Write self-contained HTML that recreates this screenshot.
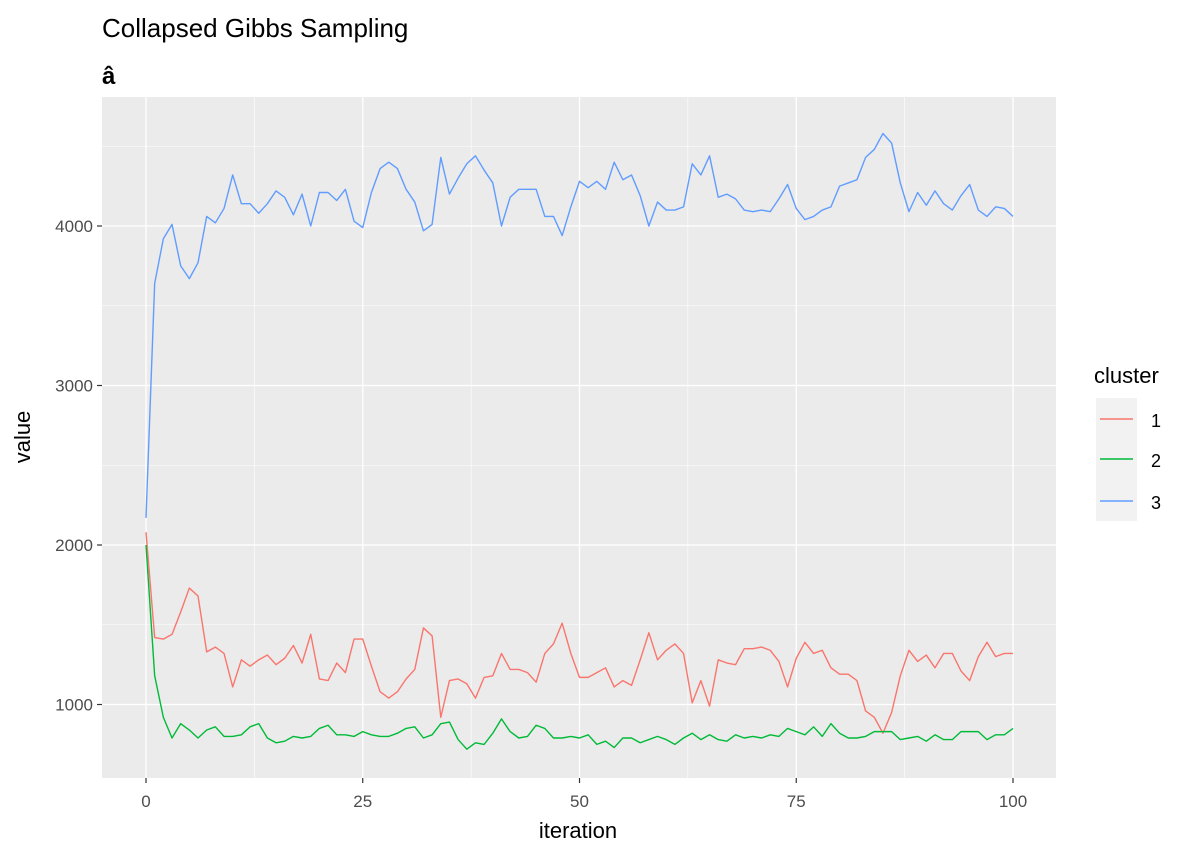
<!DOCTYPE html>
<html><head><meta charset="utf-8"><style>
body{margin:0;background:#fff;font-family:"Liberation Sans",Arial,sans-serif;}
svg text{font-family:"Liberation Sans",Arial,sans-serif;}
</style></head><body>
<svg width="1200" height="857" xmlns="http://www.w3.org/2000/svg">
<text x="102" y="37" font-size="26" fill="#000">Collapsed Gibbs Sampling</text>
<text x="102" y="84" font-size="24" font-weight="bold" fill="#000">â</text>
<rect x="102" y="97" width="954" height="681" fill="#ebebeb"/>
<g id="grid"></g>
<g id="series"></g>
<g id="axes"></g>
<text x="578" y="838" font-size="22" text-anchor="middle">iteration</text>
<text transform="translate(30,437) rotate(-90)" font-size="22" text-anchor="middle">value</text>
<g>
<text x="1094" y="383" font-size="22">cluster</text>
<rect x="1096" y="398" width="41" height="123" fill="#f2f2f2"/>
<line x1="1100" x2="1133" y1="419" y2="419" stroke="#F8766D" stroke-width="1.5"/>
<line x1="1100" x2="1133" y1="459" y2="459" stroke="#00BA38" stroke-width="1.5"/>
<line x1="1100" x2="1133" y1="501" y2="501" stroke="#619CFF" stroke-width="1.5"/>
<text x="1151" y="427" font-size="18">1</text>
<text x="1151" y="467" font-size="18">2</text>
<text x="1151" y="509" font-size="18">3</text>
</g>
</svg>
<script>
const xTicks=[0,25,50,75,100];
const yTicks=[1000,2000,3000,4000];
const seriesNames=["1","2","3"];
const cluster1=[2080,1420,1410,1440,1580,1730,1680,1330,1360,1320,1110,1280,1240,1280,1310,1250,1290,1370,1260,1440,1160,1150,1260,1200,1410,1410,1240,1080,1040,1080,1160,1220,1480,1430,920,1150,1160,1130,1040,1170,1180,1320,1220,1220,1200,1140,1320,1380,1510,1320,1170,1170,1200,1230,1110,1150,1120,1280,1450,1280,1340,1380,1320,1010,1150,990,1280,1260,1250,1350,1350,1360,1340,1270,1110,1290,1390,1320,1340,1230,1190,1190,1150,960,920,820,950,1180,1340,1270,1310,1230,1320,1320,1210,1150,1300,1390,1300,1320,1320];
const cluster2=[2000,1180,920,790,880,840,790,840,860,800,800,810,860,880,790,760,770,800,790,800,850,870,810,810,800,830,810,800,800,820,850,860,790,810,880,890,780,720,760,750,820,910,830,790,800,870,850,790,790,800,790,810,750,770,730,790,790,760,780,800,780,750,790,820,780,810,780,770,810,790,800,790,810,800,850,830,810,860,800,880,820,790,790,800,830,830,830,780,790,800,770,810,780,780,830,830,830,780,810,810,850];
const cluster3=[2170,3640,3920,4010,3750,3670,3770,4060,4020,4110,4320,4140,4140,4080,4140,4220,4180,4070,4200,4000,4210,4210,4160,4230,4030,3990,4210,4360,4400,4360,4230,4150,3970,4010,4430,4200,4300,4390,4440,4350,4270,4000,4180,4230,4230,4230,4060,4060,3940,4120,4280,4240,4280,4230,4400,4290,4320,4190,4000,4150,4100,4100,4120,4390,4320,4440,4180,4200,4170,4100,4090,4100,4090,4170,4260,4110,4040,4060,4100,4120,4250,4270,4290,4430,4480,4580,4520,4270,4090,4210,4130,4220,4140,4100,4190,4260,4100,4060,4120,4110,4060];
const colors=["#F8766D","#00BA38","#619CFF"];
const NS="http://www.w3.org/2000/svg";
function xs(v){return 146+(v/100)*867;}
function ys(v){return 704.5-(v-1000)*0.1595;}
const grid=document.getElementById('grid'),ser=document.getElementById('series'),axes=document.getElementById('axes');
function mk(tag,attrs,parent){const e=document.createElementNS(NS,tag);for(const k in attrs)e.setAttribute(k,attrs[k]);parent.appendChild(e);return e;}
// minor gridlines
for(let i=0;i<xTicks.length-1;i++){const m=(xTicks[i]+xTicks[i+1])/2;
 const l=mk('line',{x1:xs(m),x2:xs(m),y1:97,y2:778,stroke:'#fff','stroke-width':0.6},grid);
 
 }
for(const m of [1500,2500,3500,4500]){
 const l=mk('line',{x1:102,x2:1056,y1:ys(m),y2:ys(m),stroke:'#fff','stroke-width':0.6},grid);
 
 }
xTicks.forEach(t=>{
 const l=mk('line',{x1:xs(t),x2:xs(t),y1:97,y2:778,stroke:'#fff','stroke-width':1.3},grid);
 
 
 const tk=mk('line',{x1:xs(t),x2:xs(t),y1:778,y2:783,stroke:'#333','stroke-width':1.2},axes);
 
 
 const tx=mk('text',{x:xs(t),y:807,'font-size':17,'text-anchor':'middle',fill:'#4d4d4d'},axes);
 tx.textContent=t;
 
 });
yTicks.forEach(t=>{
 const l=mk('line',{x1:102,x2:1056,y1:ys(t),y2:ys(t),stroke:'#fff','stroke-width':1.3},grid);
 
 
 const tk=mk('line',{x1:97,x2:102,y1:ys(t),y2:ys(t),stroke:'#333','stroke-width':1.2},axes);
 
 
 const tx=mk('text',{x:93,y:ys(t)+6,'font-size':17,'text-anchor':'end',fill:'#4d4d4d'},axes);
 tx.textContent=t;
 
 });
[cluster1,cluster2,cluster3].forEach((arr,si)=>{
 const d=arr.map((v,i)=>(i?'L':'M')+xs(i).toFixed(2)+','+ys(v).toFixed(2)).join('');
 const p=mk('path',{d:d,fill:'none',stroke:colors[si],'stroke-width':1.4,'stroke-linejoin':'round'},ser);
 
 });
</script>
</body></html>
